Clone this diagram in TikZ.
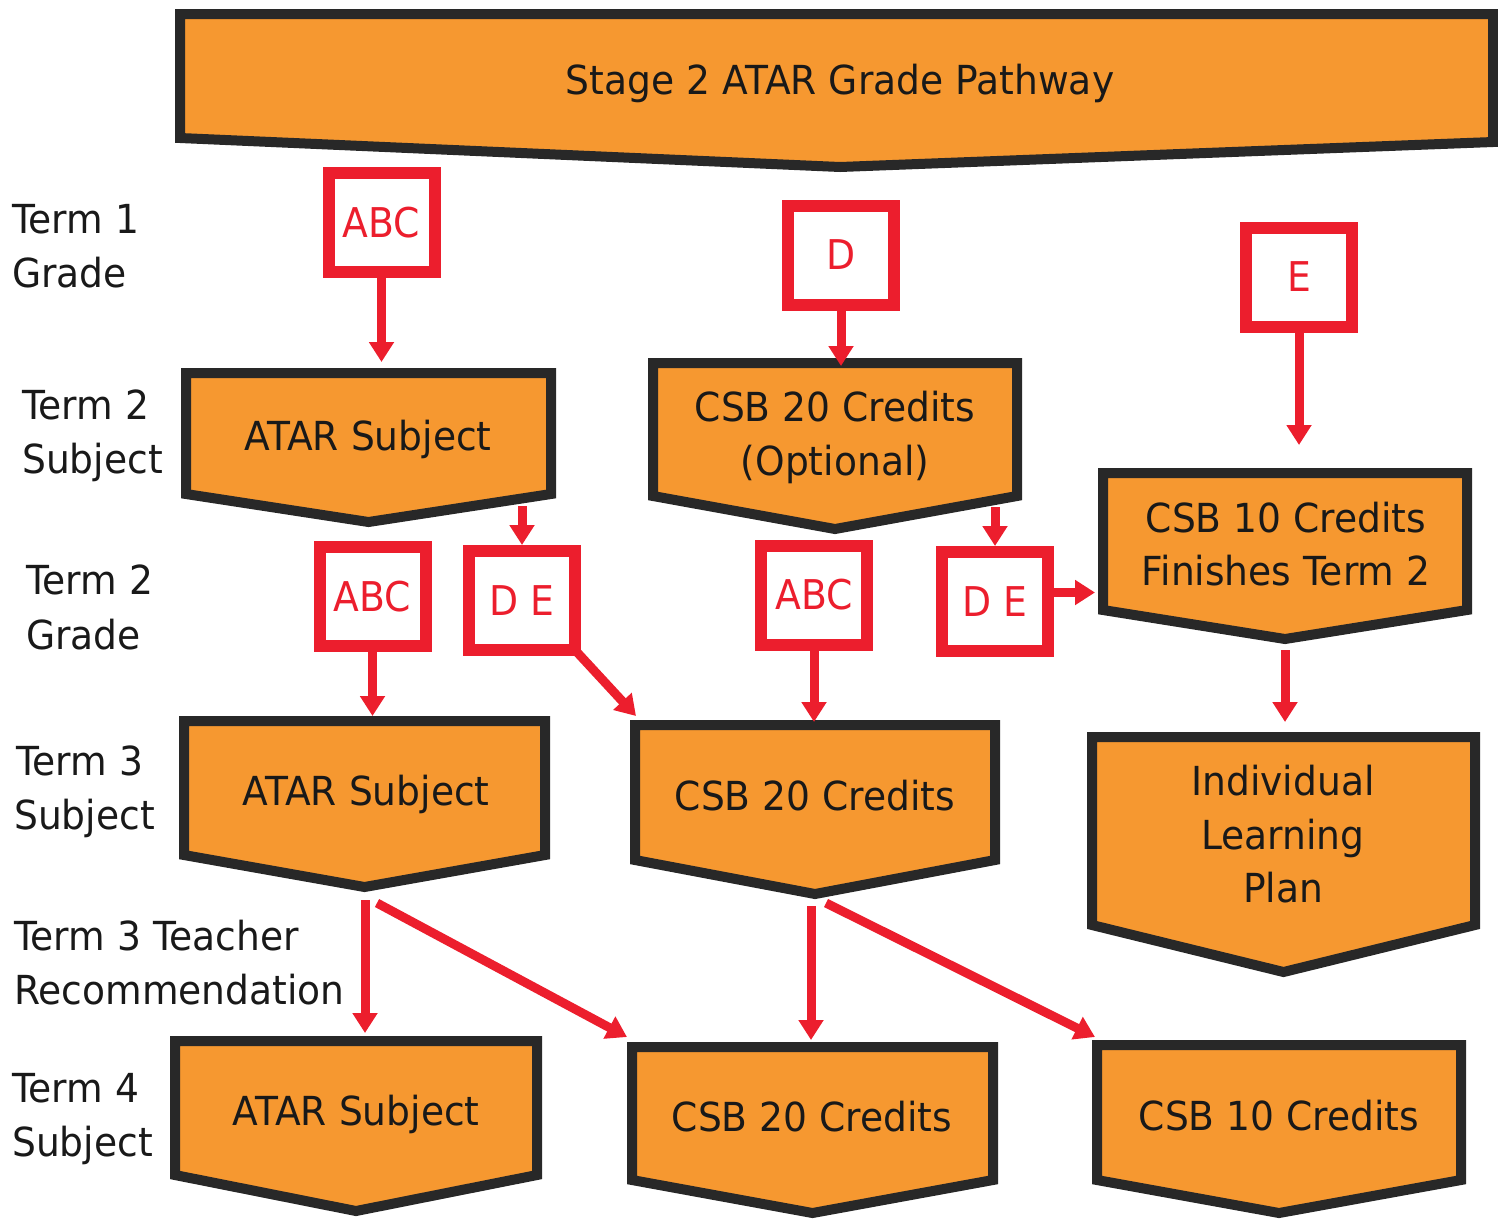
\documentclass[tikz,border=0pt]{standalone}
\usepackage{fontspec}
\setmainfont{DejaVu Sans}
\newfontfamily\narrowfont[FakeStretch=0.94]{DejaVu Sans}
\newfontfamily\gradefont[FakeStretch=0.92]{DejaVu Sans}
\usetikzlibrary{arrows.meta}
\definecolor{boxfill}{RGB}{246,152,48}
\definecolor{boxline}{RGB}{40,40,40}
\definecolor{gradered}{RGB}{236,30,45}
\definecolor{ink}{RGB}{25,25,25}
\newcommand\pentshape[6]{%
  \draw[pentbox] (#2,#3) -- (#4,#3) -- (#4,#5) -- ({(#2+#4)/2},#6) -- (#2,#5) -- cycle;
  \coordinate (#1-tip) at ({(#2+#4)/2},#6);}
\tikzset{
  pentbox/.style={fill=boxfill, draw=boxline, line width=10pt, line join=miter},
  gradebox/.style={draw=gradered, line width=12pt, fill=white, text=gradered,
    font=\gradefont\fontsize{41}{44}\selectfont, inner sep=0pt, minimum width=106pt, minimum height=99pt},
  boxtext/.style={text=ink, font=\narrowfont\fontsize{40}{54}\selectfont, inner sep=0pt, anchor=base},
  termlabel/.style={text=ink, font=\narrowfont\fontsize{40}{54}\selectfont, inner sep=0pt, anchor=base west},
  redarrow/.style={draw=gradered, line width=9pt, -{Triangle[width=24pt,length=20pt]}},
}
\begin{document}
\begin{tikzpicture}[x=1pt,y=-1pt]
\useasboundingbox (0,0) rectangle (1498,1219);
% header
\draw[pentbox] (180,14) -- (1493,14) -- (1493,142) -- (840,167) -- (180,138) -- cycle;
\node[boxtext] (title) at (840,94) {Stage 2 ATAR Grade Pathway};

% term labels
\node[termlabel] (t1a) at (12,233) {Term 1};
\node[termlabel] (t1b) at (12,287) {Grade};
\node[termlabel] (t2a) at (22,419) {Term 2};
\node[termlabel] (t2b) at (22,473) {Subject};
\node[termlabel] (t2c) at (26,594) {Term 2};
\node[termlabel] (t2d) at (26,649) {Grade};
\node[termlabel] (t3a) at (16,775) {Term 3};
\node[termlabel] (t3b) at (14,829) {Subject};
\node[termlabel] (t3c) at (14,950) {Term 3 Teacher};
\node[termlabel] (t3d) at (14,1004) {Recommendation};
\node[termlabel] (t4a) at (12,1102) {Term 4};
\node[termlabel] (t4b) at (12,1156) {Subject};

% pentagons
\pentshape{as1}{186}{373}{551}{494}{522}
\pentshape{opt}{653}{363}{1017}{496}{529}
\pentshape{fin}{1103}{473}{1467}{610}{639}
\pentshape{as2}{184}{721}{545}{855}{887}
\pentshape{cs2}{635}{725}{995}{860}{894}
\pentshape{ilp}{1092}{737}{1475}{925}{972}
\pentshape{as3}{175}{1041}{537}{1175}{1211}
\pentshape{cs3}{632}{1047}{993}{1180}{1213}
\pentshape{cs4}{1097}{1045}{1461}{1180}{1213}

\node[boxtext] (as1) at (368,450) {ATAR Subject};
\node[boxtext] (opt1) at (835,421) {CSB 20 Credits};
\node[boxtext] (opt2) at (835,475) {(Optional)};
\node[boxtext] (fin1) at (1286,532) {CSB 10 Credits};
\node[boxtext] (fin2) at (1286,585) {Finishes Term 2};
\node[boxtext] (as2) at (366,805) {ATAR Subject};
\node[boxtext] (cs2) at (815,810) {CSB 20 Credits};
\node[boxtext] (ilp1) at (1283,795) {Individual};
\node[boxtext] (ilp2) at (1283,849) {Learning};
\node[boxtext] (ilp3) at (1283,902) {Plan};
\node[boxtext] (as3) at (356,1125) {ATAR Subject};
\node[boxtext] (cs3) at (812,1131) {CSB 20 Credits};
\node[boxtext] (cs4) at (1279,1130) {CSB 10 Credits};

% grade boxes
\node[gradebox] (abc1) at (381.5,222.5) {ABC};
\node[gradebox] (d1) at (841,255) {D};
\node[gradebox] (e1) at (1299,277) {E};
\node[gradebox] (abc2) at (372.5,596.5) {ABC};
\node[gradebox] (de1) at (522,600.5) {D E};
\node[gradebox] (abc3) at (814,595) {ABC};
\node[gradebox] (de2) at (995,601.5) {D E};

% arrow end coordinates
\coordinate (as1-in) at (381.5,362);
\coordinate (opt-in) at (841,366);
\coordinate (fin-in) at (1299,445);
\coordinate (as1-out) at (522,506);
\coordinate (opt-out) at (995,507);
\coordinate (fin-left) at (1095,592.5);
\coordinate (as2-in) at (372.5,716);
\coordinate (cs2-left) at (636,716);
\coordinate (cs2-in) at (814,722);
\coordinate (fin-out) at (1285,650);
\coordinate (ilp-in) at (1285,722);
\coordinate (as2-outa) at (365,900);
\coordinate (as2-outb) at (377,903);
\coordinate (as3-in) at (365,1033);
\coordinate (cs3-left) at (627,1037);
\coordinate (cs2-outa) at (811,906);
\coordinate (cs2-outb) at (826,903);
\coordinate (cs3-in) at (811,1040);
\coordinate (cs4-left) at (1095,1037);

% arrows
\draw[redarrow] (abc1.south) -- (as1-in);
\draw[redarrow] (d1.south) -- (opt-in);
\draw[redarrow] (e1.south) -- (fin-in);
\draw[redarrow] (as1-out) -- (de1.north);
\draw[redarrow] (opt-out) -- (de2.north);
\draw[redarrow] ([yshift=9pt]de2.east) -- (fin-left);
\draw[redarrow] (abc2.south) -- (as2-in);
\draw[redarrow] ([shift={(-6pt,6pt)}]de1.south east) -- (cs2-left);
\draw[redarrow] (abc3.south) -- (cs2-in);
\draw[redarrow] (fin-out) -- (ilp-in);
\draw[redarrow] (as2-outa) -- (as3-in);
\draw[redarrow] (as2-outb) -- (cs3-left);
\draw[redarrow] (cs2-outa) -- (cs3-in);
\draw[redarrow] (cs2-outb) -- (cs4-left);
\end{tikzpicture}
\end{document}
